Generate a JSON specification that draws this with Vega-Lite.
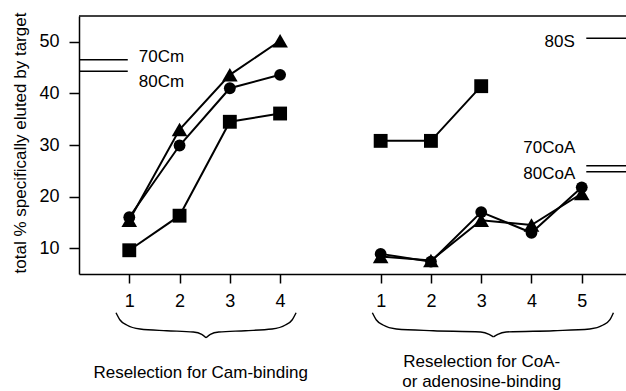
{
  "$schema": "https://vega.github.io/schema/vega-lite/v6.json",
  "width": 547,
  "height": 258,
  "autosize": "none",
  "padding": {"left": 79, "top": 16, "right": 0, "bottom": 117},
  "background": "white",
  "config": {
    "view": {"stroke": null},
    "font": "Liberation Sans",
    "axis": {
      "domainColor": "black", "tickColor": "black", "labelColor": "black", "titleColor": "black",
      "labelFont": "Liberation Sans", "titleFont": "Liberation Sans",
      "labelFontSize": 18, "titleFontSize": 17, "titleFontWeight": "normal",
      "domainWidth": 1.5, "tickWidth": 1.5, "grid": false,
      "labelOverlap": false, "labelFlush": false, "labelBound": false
    },
    "text": {"font": "Liberation Sans", "fontSize": 17, "color": "black"}
  },
  "datasets": {
    "series": [
      {"s": "cam-tri", "m": "triangle", "x": 1, "y": 15.4},
      {"s": "cam-tri", "m": "triangle", "x": 2, "y": 33.0},
      {"s": "cam-tri", "m": "triangle", "x": 3, "y": 43.6},
      {"s": "cam-tri", "m": "triangle", "x": 4, "y": 50.2},
      {"s": "coa-tri", "m": "triangle", "x": 6, "y": 8.4},
      {"s": "coa-tri", "m": "triangle", "x": 7, "y": 7.6},
      {"s": "coa-tri", "m": "triangle", "x": 8, "y": 15.4},
      {"s": "coa-tri", "m": "triangle", "x": 9, "y": 14.5},
      {"s": "coa-tri", "m": "triangle", "x": 10, "y": 20.6},
      {"s": "cam-sq", "m": "square", "x": 1, "y": 9.6},
      {"s": "cam-sq", "m": "square", "x": 2, "y": 16.3},
      {"s": "cam-sq", "m": "square", "x": 3, "y": 34.5},
      {"s": "cam-sq", "m": "square", "x": 4, "y": 36.1},
      {"s": "coa-sq", "m": "square", "x": 6, "y": 30.8},
      {"s": "coa-sq", "m": "square", "x": 7, "y": 30.8},
      {"s": "coa-sq", "m": "square", "x": 8, "y": 41.4},
      {"s": "cam-circ", "m": "circle", "x": 1, "y": 16.0},
      {"s": "cam-circ", "m": "circle", "x": 2, "y": 29.9},
      {"s": "cam-circ", "m": "circle", "x": 3, "y": 41.0},
      {"s": "cam-circ", "m": "circle", "x": 4, "y": 43.6},
      {"s": "coa-circ", "m": "circle", "x": 6, "y": 8.9},
      {"s": "coa-circ", "m": "circle", "x": 7, "y": 7.4},
      {"s": "coa-circ", "m": "circle", "x": 8, "y": 17.0},
      {"s": "coa-circ", "m": "circle", "x": 9, "y": 13.0},
      {"s": "coa-circ", "m": "circle", "x": 10, "y": 21.8}
    ],
    "refs": [
      {"r": "70Cm", "x": 0, "x2": 0.97, "y": 46.5},
      {"r": "80Cm", "x": 0, "x2": 0.97, "y": 44.3},
      {"r": "80S", "x": 10.09, "x2": 10.88, "y": 50.7},
      {"r": "70CoA", "x": 10.09, "x2": 10.88, "y": 26.0},
      {"r": "80CoA", "x": 10.09, "x2": 10.88, "y": 24.8}
    ],
    "leftLabels": [
      {"t": "70Cm", "x": 1.19, "y": 46.1},
      {"t": "80Cm", "x": 1.19, "y": 41.2}
    ],
    "rightLabels": [
      {"t": "80S", "x": 9.86, "y": 48.9},
      {"t": "70CoA", "x": 9.87, "y": 28.4},
      {"t": "80CoA", "x": 9.87, "y": 23.4}
    ],
    "groupLabels": [
      {"t": "Reselection for Cam-binding", "x": 2.42, "y": -15.2},
      {"t": "Reselection for CoA-", "x": 8.01, "y": -12.97},
      {"t": "or adenosine-binding", "x": 8.01, "y": -16.96}
    ],
    "braces": [
      {"p": "camL", "x": 0.736, "y": -2.50}, {"p": "camL", "x": 0.816, "y": -3.91},
      {"p": "camL", "x": 0.949, "y": -4.88}, {"p": "camL", "x": 1.214, "y": -5.66},
      {"p": "camL", "x": 1.745, "y": -5.99}, {"p": "camL", "x": 2.274, "y": -6.24},
      {"p": "camL", "x": 2.441, "y": -6.69}, {"p": "camL", "x": 2.527, "y": -7.34},
      {"p": "camR", "x": 2.527, "y": -7.34}, {"p": "camR", "x": 2.613, "y": -6.69},
      {"p": "camR", "x": 2.780, "y": -6.24}, {"p": "camR", "x": 3.309, "y": -5.99},
      {"p": "camR", "x": 3.840, "y": -5.66}, {"p": "camR", "x": 4.105, "y": -4.88},
      {"p": "camR", "x": 4.238, "y": -3.91}, {"p": "camR", "x": 4.318, "y": -2.50},
      {"p": "coaL", "x": 5.835, "y": -2.50}, {"p": "coaL", "x": 5.915, "y": -3.91},
      {"p": "coaL", "x": 6.048, "y": -4.88}, {"p": "coaL", "x": 6.313, "y": -5.66},
      {"p": "coaL", "x": 7.049, "y": -5.99}, {"p": "coaL", "x": 7.990, "y": -6.24},
      {"p": "coaL", "x": 8.157, "y": -6.69}, {"p": "coaL", "x": 8.243, "y": -7.20},
      {"p": "coaR", "x": 8.243, "y": -7.20}, {"p": "coaR", "x": 8.329, "y": -6.69},
      {"p": "coaR", "x": 8.496, "y": -6.24}, {"p": "coaR", "x": 9.437, "y": -5.99},
      {"p": "coaR", "x": 10.159, "y": -5.66}, {"p": "coaR", "x": 10.424, "y": -4.88},
      {"p": "coaR", "x": 10.557, "y": -3.91}, {"p": "coaR", "x": 10.630, "y": -2.50}
    ],
    "top": [{"y": 55}]
  },
  "layer": [
    {
      "data": {"name": "series"},
      "mark": {"type": "line", "color": "black", "strokeWidth": 2},
      "encoding": {
        "x": {
          "field": "x", "type": "quantitative",
          "scale": {"domain": [0, 10.88], "nice": false, "zero": false},
          "axis": {
            "title": null,
            "values": [1, 2, 3, 4, 6, 7, 8, 9, 10],
            "labelExpr": "'' + (datum.value > 5 ? datum.value - 5 : datum.value)",
            "tickSize": 9, "labelPadding": 9
          }
        },
        "y": {
          "field": "y", "type": "quantitative",
          "scale": {"domain": [5, 55], "nice": false, "zero": false},
          "axis": {
            "title": "total % specifically eluted by target",
            "values": [10, 15, 20, 25, 30, 35, 40, 45, 50, 55],
            "labelExpr": "datum.value % 10 == 0 ? datum.label : ''",
            "tickSize": 10, "labelPadding": 10,
            "titleAngle": 270, "titleAlign": "center", "titleBaseline": "alphabetic",
            "titleX": -54, "titleY": 126.5
          }
        },
        "detail": {"field": "s", "type": "nominal"}
      }
    },
    {
      "data": {"name": "series"},
      "mark": {"type": "point", "filled": true, "color": "black", "opacity": 1, "strokeWidth": 0},
      "encoding": {
        "x": {"field": "x", "type": "quantitative", "scale": {"domain": [0, 10.88], "nice": false, "zero": false}},
        "y": {"field": "y", "type": "quantitative", "scale": {"domain": [5, 55], "nice": false, "zero": false}},
        "shape": {"field": "m", "type": "nominal", "scale": {"domain": ["circle", "square", "triangle"], "range": ["circle", "square", "triangle-up"]}, "legend": null},
        "size": {"field": "m", "type": "ordinal", "scale": {"domain": ["circle", "square", "triangle"], "range": [140, 245, 330]}, "legend": null}
      }
    },
    {
      "data": {"name": "top"},
      "mark": {"type": "rule", "color": "black", "strokeWidth": 1.5},
      "encoding": {
        "y": {"field": "y", "type": "quantitative", "scale": {"domain": [5, 55], "nice": false, "zero": false}}
      }
    },
    {
      "data": {"name": "refs"},
      "mark": {"type": "rule", "color": "black", "strokeWidth": 1.5},
      "encoding": {
        "x": {"field": "x", "type": "quantitative", "scale": {"domain": [0, 10.88], "nice": false, "zero": false}},
        "x2": {"field": "x2"},
        "y": {"field": "y", "type": "quantitative", "scale": {"domain": [5, 55], "nice": false, "zero": false}}
      }
    },
    {
      "data": {"name": "leftLabels"},
      "mark": {"type": "text", "align": "left", "baseline": "alphabetic"},
      "encoding": {
        "x": {"field": "x", "type": "quantitative", "scale": {"domain": [0, 10.88], "nice": false, "zero": false}},
        "y": {"field": "y", "type": "quantitative", "scale": {"domain": [5, 55], "nice": false, "zero": false}},
        "text": {"field": "t"}
      }
    },
    {
      "data": {"name": "rightLabels"},
      "mark": {"type": "text", "align": "right", "baseline": "alphabetic"},
      "encoding": {
        "x": {"field": "x", "type": "quantitative", "scale": {"domain": [0, 10.88], "nice": false, "zero": false}},
        "y": {"field": "y", "type": "quantitative", "scale": {"domain": [5, 55], "nice": false, "zero": false}},
        "text": {"field": "t"}
      }
    },
    {
      "data": {"name": "groupLabels"},
      "mark": {"type": "text", "align": "center", "baseline": "alphabetic"},
      "encoding": {
        "x": {"field": "x", "type": "quantitative", "scale": {"domain": [0, 10.88], "nice": false, "zero": false}},
        "y": {"field": "y", "type": "quantitative", "scale": {"domain": [5, 55], "nice": false, "zero": false}},
        "text": {"field": "t"}
      }
    },
    {
      "data": {"name": "braces"},
      "mark": {"type": "line", "color": "black", "strokeWidth": 1.4, "interpolate": "monotone"},
      "encoding": {
        "x": {"field": "x", "type": "quantitative", "scale": {"domain": [0, 10.88], "nice": false, "zero": false}},
        "y": {"field": "y", "type": "quantitative", "scale": {"domain": [5, 55], "nice": false, "zero": false}},
        "detail": {"field": "p", "type": "nominal"}
      }
    }
  ]
}
